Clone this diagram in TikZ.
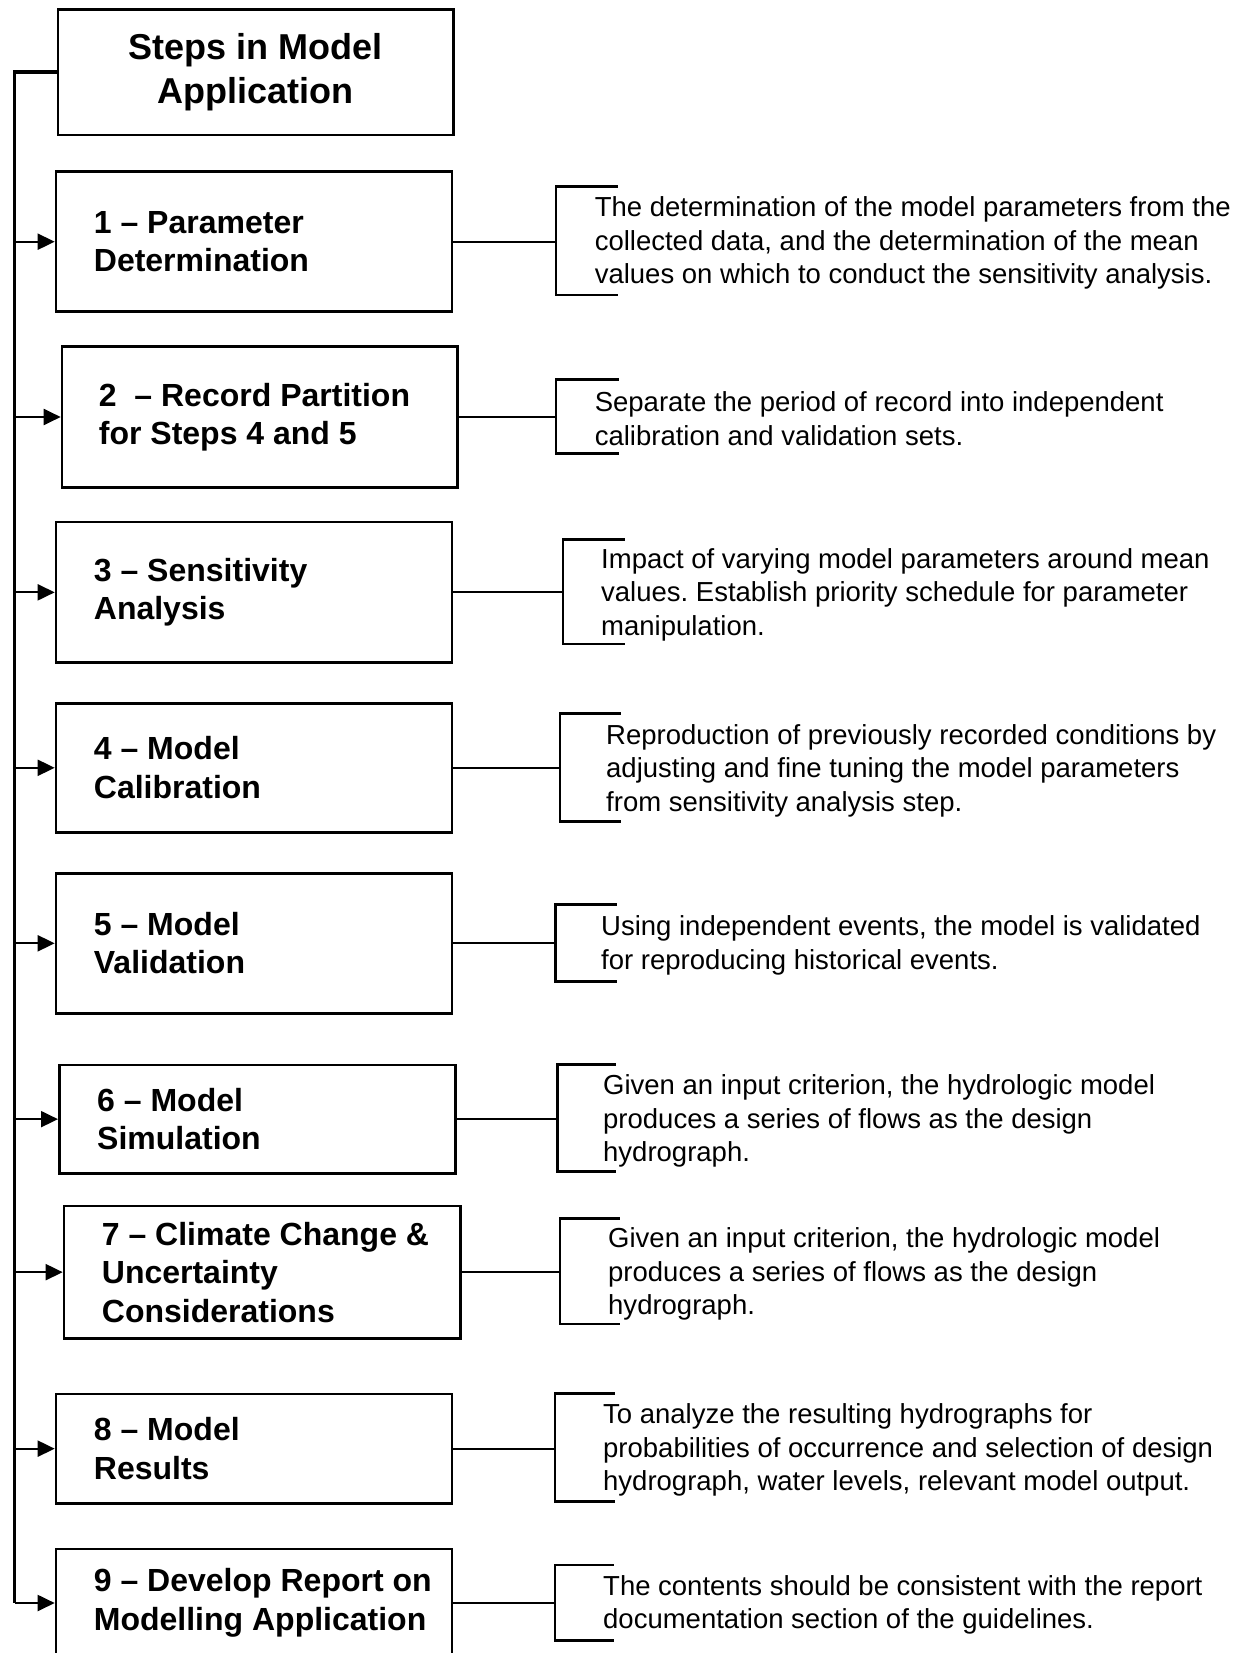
\documentclass[tikz,border=0pt]{standalone}
\usepackage{fontspec}
\setmainfont{Liberation Sans}
\usetikzlibrary{arrows.meta}
\frenchspacing

% side brace: vertical stroke at x=#1 from y=#2 to y=#3, arms reaching x=#4
\newcommand\sidebrace[4]{\draw[brace] (#4,#2) -- (#1,#2) -- (#1,#3) -- (#4,#3);}

\begin{document}
\begin{tikzpicture}[x=1pt,y=-1pt,
  stepbox/.style={draw, rectangle, line width=2.6pt, inner sep=0pt},
  steplabel/.style={anchor=west, align=left, inner sep=0pt,
    font=\fontsize{32}{38.5}\selectfont\bfseries},
  titlelabel/.style={align=center, inner sep=0pt,
    font=\fontsize{36}{44.3}\selectfont\bfseries},
  note/.style={anchor=west, align=left, inner sep=0pt,
    font=\fontsize{27.5}{33.5}\selectfont},
  trunk/.style={line width=3.4pt},
  feed/.style={line width=2pt, -{Triangle[length=17pt,width=16pt]}},
  link/.style={line width=2.2pt},
  brace/.style={line width=2.6pt, line cap=rect}]

\useasboundingbox (0,0) rectangle (1245,1653);
\clip (0,0) rectangle (1245,1653);

% heading box
\node[stepbox, minimum width=395.5pt, minimum height=125.7pt] (title) at (255.7,72.2) {};
\node[titlelabel] (titletext) at (title.center) {Steps in Model\\Application};

% step boxes
\node[stepbox, minimum width=396pt,   minimum height=140pt]   (s1) at (254,241.7) {};
\node[stepbox, minimum width=395.7pt, minimum height=140.6pt] (s2) at (259.85,417) {};
\node[stepbox, minimum width=396pt,   minimum height=140.7pt] (s3) at (254,592.35) {};
\node[stepbox, minimum width=396pt,   minimum height=129pt]   (s4) at (254,767.8) {};
\node[stepbox, minimum width=396pt,   minimum height=140pt]   (s5) at (254,943.3) {};
\node[stepbox, minimum width=396.4pt, minimum height=108.3pt] (s6) at (257.5,1119.15) {};
\node[stepbox, minimum width=396.3pt, minimum height=132.3pt] (s7) at (262.15,1272.15) {};
\node[stepbox, minimum width=396pt,   minimum height=109.3pt] (s8) at (254,1448.65) {};
\node[stepbox, minimum width=396pt,   minimum height=108pt]   (s9) at (254,1603) {};

% step labels
\node[steplabel] (s1text) at ([xshift=39pt]s1.west) {1 -- Parameter\\Determination};
\node[steplabel] (s2text) at ([xshift=38pt]s2.west) {2\ \ -- Record Partition\\for Steps 4 and 5};
\node[steplabel] (s3text) at ([xshift=39pt]s3.west) {3 -- Sensitivity\\Analysis};
\node[steplabel] (s4text) at ([xshift=39pt]s4.west) {4 -- Model\\Calibration};
\node[steplabel] (s5text) at ([xshift=39pt]s5.west) {5 -- Model\\Validation};
\node[steplabel] (s6text) at ([xshift=39pt]s6.west) {6 -- Model\\Simulation};
\node[steplabel] (s7text) at ([xshift=39pt]s7.west) {7 -- Climate Change \&\\Uncertainty\\Considerations};
\node[steplabel] (s8text) at ([xshift=39pt]s8.west) {8 -- Model\\Results};
\node[steplabel] (s9text) at ([xshift=39pt]s9.west) {9 -- Develop Report on\\Modelling Application};

% spine on the left feeding every step
\coordinate (spine) at (14.5,0);
\draw[trunk] (title.west) -| (spine |- s9.west);
\foreach \s in {s1,s2,s3,s4,s5,s6,s7,s8,s9}
  \draw[feed] (spine |- \s.west) -- (\s.west);

% brace anchors (x of the vertical stroke)
\coordinate (b1) at (556,0);
\coordinate (b2) at (556,0);
\coordinate (b3) at (563,0);
\coordinate (b4) at (560,0);
\coordinate (b5) at (555.6,0);
\coordinate (b6) at (557.7,0);
\coordinate (b7) at (559.8,0);
\coordinate (b8) at (555,0);
\coordinate (b9) at (555,0);

\foreach \i in {1,...,9}
  \draw[link] (s\i.east) -- (s\i.east -| b\i);

\sidebrace{556}{186.7}{295}{617}
\sidebrace{556}{379.5}{453.3}{618}
\sidebrace{563}{539.7}{644}{624}
\sidebrace{560}{713.7}{821.2}{620}
\sidebrace{555.6}{904.5}{981.5}{615.7}
\sidebrace{557.7}{1064.7}{1171.2}{614.6}
\sidebrace{559.8}{1218.7}{1324}{618.8}
\sidebrace{555}{1393.3}{1501.7}{613.3}
\sidebrace{555}{1565}{1640.7}{613}

% descriptions
\node[note] (d1) at (594.6,243) {The determination of the model parameters from the\\collected data, and the determination of the mean\\values on which to conduct the sensitivity analysis.};
\node[note] (d2) at (594.6,418.5) {Separate the period of record into independent\\calibration and validation sets.};
\node[note] (d3) at (601,594.5) {Impact of varying model parameters around mean\\values. Establish priority schedule for parameter\\manipulation.};
\node[note] (d4) at (606,770.5) {Reproduction of previously recorded conditions by\\adjusting and fine tuning the model parameters\\from sensitivity analysis step.};
\node[note] (d5) at (601,945.5) {Using independent events, the model is validated\\for reproducing historical events.};
\node[note] (d6) at (603,1121) {Given an input criterion, the hydrologic model\\produces a series of flows as the design\\hydrograph.};
\node[note] (d7) at (608,1274) {Given an input criterion, the hydrologic model\\produces a series of flows as the design\\hydrograph.};
\node[note] (d8) at (603,1450) {To analyze the resulting hydrographs for\\probabilities of occurrence and selection of design\\hydrograph, water levels, relevant model output.};
\node[note] (d9) at (603,1605) {The contents should be consistent with the report\\documentation section of the guidelines.};

\end{tikzpicture}
\end{document}
